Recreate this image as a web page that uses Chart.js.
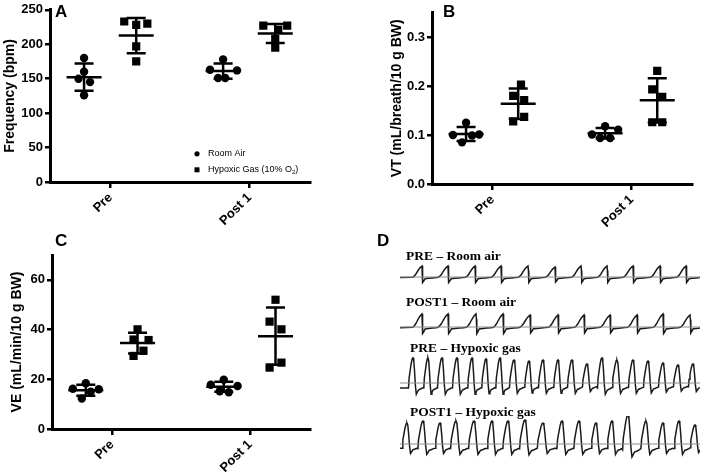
<!DOCTYPE html>
<html>
<head>
  <meta charset="utf-8">
  <title>Ventilation Pre / Post 1</title>
  <script src="https://cdn.jsdelivr.net/npm/chart.js@4.4.0/dist/chart.umd.min.js"></script>
  <style>
    body {
      margin: 0;
      background: #fff;
    }
    #fig {
      position: relative;
      width: 709px;
      height: 472px;
      overflow: hidden;
      font-family: Arial, "Liberation Sans", sans-serif;
    }
    canvas {
      position: absolute;
    }
    .letter {
      position: absolute;
      font-weight: bold;
      font-size: 17px;
      line-height: 1;
    }
    .trace-label {
      position: absolute;
      font-family: "Liberation Serif", "Times New Roman", serif;
      font-weight: bold;
      font-size: 13.5px;
      line-height: 1;
      white-space: nowrap;
    }
  </style>
</head>
<body>
  <div id="fig">
    <canvas id="chartA" width="330" height="230" style="left:0;top:0"></canvas>
    <canvas id="chartB" width="329" height="230" style="left:380px;top:0"></canvas>
    <canvas id="chartC" width="330" height="240" style="left:0;top:232px"></canvas>

    <canvas id="trace1" width="300" height="26" style="left:400px;top:262px"></canvas>
    <canvas id="trace2" width="300" height="30" style="left:400px;top:310px"></canvas>
    <canvas id="trace3" width="300" height="46" style="left:400px;top:354px"></canvas>
    <canvas id="trace4" width="300" height="48" style="left:400px;top:416px"></canvas>

    <div class="letter" style="left:55px;top:3px">A</div>
    <div class="letter" style="left:443px;top:3px">B</div>
    <div class="letter" style="left:55px;top:232px">C</div>
    <div class="letter" style="left:377px;top:232px">D</div>

    <div class="trace-label" style="left:406px;top:249px">PRE – Room air</div>
    <div class="trace-label" style="left:406px;top:295px">POST1 – Room air</div>
    <div class="trace-label" style="left:410px;top:341px">PRE – Hypoxic gas</div>
    <div class="trace-label" style="left:410px;top:405px">POST1 – Hypoxic gas</div>
  </div>

  <script>
    // ---- data ----
    const groups = ['Pre', 'Post 1'];

    // A: breathing frequency (bpm), 5 animals each
    const freqRoomPre = [180, 160, 150, 145, 126];
    const freqRoomPost = [178, 163, 162, 151, 151];
    const freqHypoxPre = [233, 228, 230, 197, 175];
    const freqHypoxPost = [227, 221, 227, 208, 195];
    const freqTicks = [0, 50, 100, 150, 200, 250];

    // B: tidal volume (mL/breath/10 g BW)
    const vtRoomPre = [0.125, 0.100, 0.099, 0.101, 0.085];
    const vtRoomPost = [0.118, 0.111, 0.101, 0.094, 0.094];
    const vtHypoxPre = [0.203, 0.180, 0.171, 0.137, 0.128];
    const vtHypoxPost = [0.231, 0.193, 0.178, 0.126, 0.126];
    const vtTicks = [0, 0.1, 0.2, 0.3];

    // C: minute ventilation (mL/min/10 g BW)
    const veRoomPre = [18.4, 16.2, 16.0, 15.0, 12.3];
    const veRoomPost = [19.8, 17.8, 17.3, 15.2, 14.8];
    const veHypoxPre = [40.1, 36.0, 35.8, 31.5, 29.4];
    const veHypoxPost = [52.0, 43.2, 40.1, 26.7, 24.7];
    const veTicks = [0, 20, 40, 60];

    // horizontal scatter of the dots inside each group (category units)
    const jitA = {
      roomPre: [0, 0, -0.04, 0.043, 0], hypoxPre: [-0.086, 0, 0.08, 0, 0],
      roomPost: [0, -0.094, 0.1, -0.036, 0.015], hypoxPost: [-0.086, 0.022, 0.086, 0, 0]
    };
    const jitB = {
      roomPre: [0, -0.094, 0.043, 0.094, -0.029], hypoxPre: [0.02, -0.036, 0.043, 0.043, -0.036],
      roomPost: [0, 0.094, -0.094, -0.036, 0.036], hypoxPost: [0, -0.036, 0.036, -0.036, 0.036]
    };
    const jitC = {
      roomPre: [0, -0.094, 0.094, 0.036, -0.029], hypoxPre: [0, -0.029, 0.08, 0.043, -0.029],
      roomPost: [0, -0.094, 0.1, -0.029, 0.036], hypoxPost: [0, -0.043, 0.043, 0.043, -0.043]
    };

    // D: plethysmograph traces, peak times (s) and peak heights (a.u.)
    const preRoomPeaks = [0.33, 0.72, 1.125, 1.515, 1.92, 2.325, 2.715, 3.105, 3.495, 3.9, 4.29];
    const preRoomHeights = [11, 11, 11, 11, 11, 10, 11, 11, 11, 11, 11];
    const postRoomPeaks = [0.33, 0.72, 1.14, 1.545, 1.95, 2.37, 2.76, 3.15, 3.555, 3.945, 4.35];
    const postRoomHeights = [13, 13, 13, 13, 12, 12, 12, 12, 12, 13, 12];
    const preHypoxPeaks = [0.195, 0.42, 0.63, 0.855, 1.08, 1.29, 1.5, 1.71, 1.935, 2.145,
                           2.37, 2.58, 2.805, 3.03, 3.255, 3.495, 3.72, 3.945, 4.17, 4.395];
    const preHypoxHeights = [25, 25, 25, 25, 25, 24, 25, 23, 22, 23, 23, 23, 19, 25, 23, 23, 22, 20, 18, 19];
    const postHypoxPeaks = [0.105, 0.345, 0.6, 0.84, 1.11, 1.38, 1.62, 1.875, 2.145,
                            2.43, 2.685, 2.94, 3.18, 3.42, 3.69, 3.945, 4.185, 4.425];
    const postHypoxHeights = [21, 23, 21, 23, 23, 23, 23, 24, 21, 23, 23, 21, 23, 29, 23, 21, 23, 19];
    // one breath: [phase from peak (fraction of period), level / peak]
    const roomBreath = [[-0.36, -0.02], [-0.3, 0.08], [-0.24, 0.25], [-0.18, 0.48], [-0.12, 0.7],
                        [-0.06, 0.88], [0, 1], [0.015, 0.6], [0.03, -0.5], [0.07, -0.35],
                        [0.12, -0.15], [0.25, -0.12], [0.4, -0.08], [0.55, -0.05]];
    const hypoxBreath = [[-0.3, -0.2], [-0.26, 0.2], [-0.2, 0.45], [-0.12, 0.78], [-0.05, 0.97],
                         [0, 1], [0.05, 0.9], [0.1, 0.5], [0.16, -0.1], [0.22, -0.45],
                         [0.28, -0.38], [0.36, -0.28], [0.5, -0.24], [0.62, -0.2]];
    const traceSeconds = 4.5;

    Chart.defaults.color = '#000';
    Chart.defaults.font.family = 'Arial, "Liberation Sans", sans-serif';
    Chart.defaults.animation = false;

    const roomOffset = -0.19;
    const hypoxOffset = 0.185;

    function points(values, jitter, center) {
      return values.map((v, i) => ({ x: center + jitter[i], y: v }));
    }

    function scatterSet(label, values, jitter, center, style) {
      return {
        label: label,
        data: points(values, jitter, center),
        center: center,
        pointStyle: style,
        pointRadius: style === 'rect' ? 5.8 : 4.2,
        backgroundColor: '#000',
        borderColor: '#000',
        borderWidth: 0
      };
    }

    // mean and SD bars drawn for every group
    const meanSd = {
      id: 'meanSd',
      afterDatasetsDraw(chart) {
        const ctx = chart.ctx;
        const xs = chart.scales.x, ys = chart.scales.y;
        ctx.save();
        ctx.strokeStyle = '#000';
        ctx.lineWidth = 2.5;
        chart.data.datasets.forEach(ds => {
          const vals = ds.data.map(p => p.y);
          const n = vals.length;
          const mean = vals.reduce((a, b) => a + b, 0) / n;
          const sd = Math.sqrt(vals.reduce((a, b) => a + (b - mean) * (b - mean), 0) / (n - 1));
          const px = xs.getPixelForValue(ds.center);
          const yMean = ys.getPixelForValue(mean);
          const yHi = ys.getPixelForValue(mean + sd);
          const yLo = ys.getPixelForValue(mean - sd);
          ctx.beginPath();
          ctx.moveTo(px - 17.5, yMean); ctx.lineTo(px + 17.5, yMean);
          ctx.moveTo(px - 9.5, yHi); ctx.lineTo(px + 9.5, yHi);
          ctx.moveTo(px - 9.5, yLo); ctx.lineTo(px + 9.5, yLo);
          ctx.moveTo(px, yHi); ctx.lineTo(px, yLo);
          ctx.stroke();
        });
        ctx.restore();
      }
    };

    // small legend inside panel A
    const legendA = {
      id: 'legendA',
      afterDraw(chart) {
        const ctx = chart.ctx;
        const x0 = chart.chartArea.left + 147;
        const y0 = chart.chartArea.top + 144;
        ctx.save();
        ctx.fillStyle = '#000';
        ctx.beginPath();
        ctx.arc(x0, y0, 2.6, 0, Math.PI * 2);
        ctx.fill();
        ctx.fillRect(x0 - 2.5, y0 + 16 - 2.5, 5, 5);
        ctx.font = '9px Arial, "Liberation Sans", sans-serif';
        ctx.textBaseline = 'middle';
        ctx.fillText('Room Air', x0 + 11, y0);
        const s = 'Hypoxic Gas (10% O';
        ctx.fillText(s, x0 + 11, y0 + 16);
        let w = ctx.measureText(s).width;
        ctx.font = '6px Arial, "Liberation Sans", sans-serif';
        ctx.fillText('2', x0 + 11 + w, y0 + 19);
        w += ctx.measureText('2').width;
        ctx.font = '9px Arial, "Liberation Sans", sans-serif';
        ctx.fillText(')', x0 + 11 + w, y0 + 16);
        ctx.restore();
      }
    };

    function panel(id, opts) {
      const datasets = [
        scatterSet('Room Air', opts.roomPre, opts.jit.roomPre, 1 + roomOffset, 'circle'),
        scatterSet('Hypoxic Gas', opts.hypoxPre, opts.jit.hypoxPre, 1 + hypoxOffset, 'rect'),
        scatterSet('Room Air', opts.roomPost, opts.jit.roomPost, 2 + roomOffset, 'circle'),
        scatterSet('Hypoxic Gas', opts.hypoxPost, opts.jit.hypoxPost, 2 + hypoxOffset, 'rect')
      ];
      return new Chart(document.getElementById(id), {
        type: 'scatter',
        data: { datasets: datasets },
        options: {
          responsive: false,
          layout: { padding: opts.padding },
          plugins: { legend: { display: false }, tooltip: { enabled: false } },
          scales: {
            x: {
              type: 'linear',
              min: 0.565,
              max: 2.435,
              afterBuildTicks: s => { s.ticks = groups.map((g, i) => ({ value: i + 1 })); },
              afterFit: s => { s.height = opts.xHeight; },
              ticks: {
                autoSkip: false,
                minRotation: 45,
                maxRotation: 45,
                padding: 2,
                font: { size: 13, weight: 'bold' },
                callback: v => groups[Math.round(v) - 1]
              },
              grid: { drawOnChartArea: false, drawTicks: true, tickLength: 6, color: '#000', lineWidth: 2.5 },
              border: { display: true, color: '#000', width: 3 }
            },
            y: {
              min: 0,
              max: opts.max,
              afterBuildTicks: s => { s.ticks = opts.ticks.map(v => ({ value: v })); },
              afterFit: s => { s.width = opts.yWidth; },
              ticks: {
                padding: 2,
                font: { size: 13, weight: 'bold' },
                callback: opts.fmt
              },
              title: {
                display: true,
                text: opts.title,
                font: { size: 14, weight: 'bold' },
                padding: { top: opts.titlePad, bottom: 0 }
              },
              grid: { drawOnChartArea: false, drawTicks: true, tickLength: 5, color: '#000', lineWidth: 2.5 },
              border: { display: true, color: '#000', width: 3 }
            }
          }
        },
        plugins: opts.plugins
      });
    }

    panel('chartA', {
      roomPre: freqRoomPre, roomPost: freqRoomPost, hypoxPre: freqHypoxPre, hypoxPost: freqHypoxPost,
      jit: jitA, ticks: freqTicks, max: 250, title: 'Frequency (bpm)', titlePad: 2,
      fmt: v => String(v), padding: { top: 9, right: 20 }, yWidth: 50, xHeight: 48,
      plugins: [meanSd, legendA]
    });

    panel('chartB', {
      roomPre: vtRoomPre, roomPost: vtRoomPost, hypoxPre: vtHypoxPre, hypoxPost: vtHypoxPost,
      jit: jitB, ticks: vtTicks, max: 0.35, title: 'VT (mL/breath/10 g BW)', titlePad: 9,
      fmt: v => v.toFixed(1), padding: { top: 12.5, right: 17 }, yWidth: 52, xHeight: 46,
      plugins: [meanSd]
    });

    panel('chartC', {
      roomPre: veRoomPre, roomPost: veRoomPost, hypoxPre: veHypoxPre, hypoxPost: veHypoxPost,
      jit: jitC, ticks: veTicks, max: 70, title: 'VE (mL/min/10 g BW)', titlePad: 9,
      fmt: v => String(v), padding: { top: 23, right: 20 }, yWidth: 52, xHeight: 43,
      plugins: [meanSd]
    });

    // ---- traces ----
    function buildTrace(peaks, heights, shape) {
      const pts = [{ x: 0, y: shape[shape.length - 1][1] * heights[0] }];
      peaks.forEach((p, i) => {
        const period = i < peaks.length - 1 ? peaks[i + 1] - p : p - peaks[i - 1];
        shape.forEach(([ph, v]) => pts.push({ x: p + ph * period, y: v * heights[i] }));
      });
      return pts;
    }

    function trace(id, peaks, heights, shape, yMin, yMax) {
      return new Chart(document.getElementById(id), {
        type: 'line',
        data: {
          datasets: [
            {
              data: [{ x: 0, y: 0 }, { x: traceSeconds, y: 0 }],
              borderColor: '#8c8c8c',
              borderWidth: 1,
              pointRadius: 0
            },
            {
              data: buildTrace(peaks, heights, shape),
              borderColor: '#1a1a1a',
              borderWidth: 1.5,
              pointRadius: 0,
              tension: 0
            }
          ]
        },
        options: {
          responsive: false,
          layout: { padding: 0 },
          plugins: { legend: { display: false }, tooltip: { enabled: false } },
          scales: {
            x: { type: 'linear', display: false, min: 0, max: traceSeconds },
            y: { display: false, min: yMin, max: yMax }
          }
        }
      });
    }

    trace('trace1', preRoomPeaks, preRoomHeights, roomBreath, -11, 15);
    trace('trace2', postRoomPeaks, postRoomHeights, roomBreath, -13, 17);
    trace('trace3', preHypoxPeaks, preHypoxHeights, hypoxBreath, -17, 29);
    trace('trace4', postHypoxPeaks, postHypoxHeights, hypoxBreath, -20, 28);
  </script>
</body>
</html>
